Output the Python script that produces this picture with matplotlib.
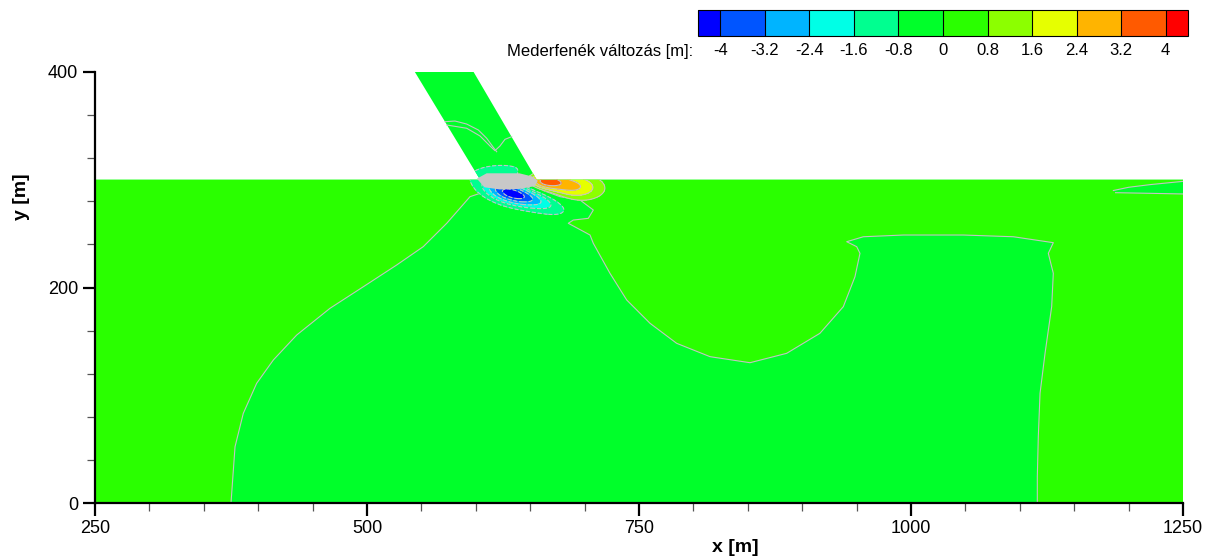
import numpy as np
import matplotlib
matplotlib.use("Agg")
import matplotlib.pyplot as plt
from matplotlib.colors import ListedColormap, BoundaryNorm
from matplotlib.patches import Polygon
from matplotlib.cm import ScalarMappable
from matplotlib.ticker import MultipleLocator

plt.rcParams["font.family"] = ["Liberation Sans", "DejaVu Sans"]

# ---- colour classes of the bed change [m] ----
LEVELS = [-4, -3.2, -2.4, -1.6, -0.8, 0, 0.8, 1.6, 2.4, 3.2, 4]
LEVEL_LABELS = ["-4", "-3.2", "-2.4", "-1.6", "-0.8", "0", "0.8", "1.6", "2.4", "3.2", "4"]
CLASS_COLORS = ["#0000FF", "#0055FF", "#00B4FF", "#00FFE6", "#00FF90", "#00FF2A",
                "#2AFF00", "#8CFF00", "#E6FF00", "#FFB400", "#FF5A00", "#FF0000"]

# ---- model domain: main reach plus the inclined side channel ----
DOMAIN_X = [250, 1250, 1250, 656, 598, 544, 604, 250]
DOMAIN_Y = [0, 0, 300, 300, 400, 400, 300, 300]
BACKGROUND_CHANGE = -0.4

# deposition zone along the left bank (between x=250 and the zero line)
LEFT_ZONE_X = [375, 378.7, 386.3, 398.6, 413.9, 435.4, 466.0, 496.6, 527.3,
               551.7, 573.3, 594.7, 603.9, 606.6]
LEFT_ZONE_Y = [0, 52.2, 83.2, 111.1, 132.7, 155.9, 180.7, 200.7, 220.9,
               237.9, 259.6, 284.3, 287.4, 295.1]
LEFT_ZONE_CHANGE = 0.4

# zero line bounding the deposition zone downstream of the junction
RIGHT_ZONE_X = [648, 662, 677.4, 695.8, 708, 703.4, 689.6, 685, 705, 708, 723.3,
                738.7, 760.1, 784.6, 815.3, 852.0, 885.7, 916.3, 937.8, 948.5,
                953.1, 950.1, 940.9, 956.2, 993.0, 1048.1, 1094.1, 1130.8,
                1126.2, 1130.8, 1129.3, 1123.2, 1118.6, 1117.0, 1116.1, 1116.1]
RIGHT_ZONE_Y = [300, 290, 284.3, 281.2, 271.9, 264.2, 262.6, 259.6, 248.7, 241,
                213.2, 188.4, 166.8, 148.2, 135.8, 130.2, 138.9, 157.5, 182.2,
                210.0, 231.7, 237.9, 242.5, 247.1, 248.7, 248.7, 247.1, 241.6,
                231.7, 213.2, 182.2, 138.9, 101.8, 61.5, 24.4, 0]
RIGHT_ZONE_CHANGE = 0.4

# small erosion wedge at the downstream bank
WEDGE_X = [1186, 1200, 1220, 1240, 1250, 1250, 1220, 1188]
WEDGE_Y = [290, 293, 295.5, 297.5, 298.5, 286.8, 287.4, 288]
WEDGE_CHANGE = -0.4

# contour lines inside the side channel
CHANNEL_LINE_A_X = [571.7, 580.9, 591.6, 602.3, 610.0, 616.1, 619.2]
CHANNEL_LINE_A_Y = [353.9, 354.5, 351.7, 346.2, 338.5, 330.1, 326.0]
CHANNEL_LINE_B_X = [573.3, 591.6, 603.9, 613.1, 617.6, 622.2, 626.8, 633.0]
CHANNEL_LINE_B_Y = [350.8, 347.8, 340.6, 331.3, 327.0, 331.3, 337.5, 340.0]

# scour hole and deposition mound at the junction (elliptic features)
FEATURE_X = [633, 664, 662, 688, 625]
FEATURE_Y = [287, 279, 299, 294, 306]
FEATURE_AMP = [-4.2, -1.4, 3.0, 2.6, -1.1]
FEATURE_SX = [18, 18, 12, 20, 28]
FEATURE_SY = [7, 8, 6, 9, 9]
FEATURE_ANGLE = [-14, -20, 0, -4, 0]

# dry cells at the channel mouth
DRY_X = [601, 610, 640, 652, 657, 654, 640, 622, 608]
DRY_Y = [301, 306, 306, 303, 299, 294, 291.5, 291, 293]

LINE_GREY = "#C4C4C4"

cmap = ListedColormap(CLASS_COLORS[1:-1])
cmap.set_under(CLASS_COLORS[0])
cmap.set_over(CLASS_COLORS[-1])
norm = BoundaryNorm(LEVELS, cmap.N)

W, H = 1215, 559
fig = plt.figure(figsize=(W / 100, H / 100), dpi=100)
ax = fig.add_axes([95 / W, 1 - 503 / H, (1183 - 95) / W, (503 - 72) / H])

# zone fills
ax.fill(DOMAIN_X, DOMAIN_Y, color=cmap(norm(BACKGROUND_CHANGE)), lw=0, zorder=1)
ax.fill([250] + LEFT_ZONE_X + [608, 250], [0] + LEFT_ZONE_Y + [300, 300],
        color=cmap(norm(LEFT_ZONE_CHANGE)), lw=0, zorder=1.2)
ax.fill(RIGHT_ZONE_X + [1250, 1250], RIGHT_ZONE_Y + [0, 300],
        color=cmap(norm(RIGHT_ZONE_CHANGE)), lw=0, zorder=1.2)
ax.fill(WEDGE_X, WEDGE_Y, color=cmap(norm(WEDGE_CHANGE)), lw=0, zorder=1.4)

# zero lines
for xs, ys in [(LEFT_ZONE_X, LEFT_ZONE_Y), (RIGHT_ZONE_X, RIGHT_ZONE_Y),
               (WEDGE_X[:5], WEDGE_Y[:5]), (WEDGE_X[5:], WEDGE_Y[5:]),
               (CHANNEL_LINE_A_X, CHANNEL_LINE_A_Y),
               (CHANNEL_LINE_B_X, CHANNEL_LINE_B_Y)]:
    ax.plot(xs, ys, color=LINE_GREY, lw=0.8, zorder=2)

# junction scour / deposition field
gx = np.arange(540, 800, 0.5)
gy = np.arange(220, 380, 0.5)
GX, GY = np.meshgrid(gx, gy)
Z = np.zeros_like(GX)
for x0, y0, a, sx, sy, ang in zip(FEATURE_X, FEATURE_Y, FEATURE_AMP,
                                  FEATURE_SX, FEATURE_SY, FEATURE_ANGLE):
    t = np.deg2rad(ang)
    dx, dy = GX - x0, GY - y0
    u = dx * np.cos(t) + dy * np.sin(t)
    v = -dx * np.sin(t) + dy * np.cos(t)
    Z += a * np.exp(-(u ** 2 / (2 * sx ** 2) + v ** 2 / (2 * sy ** 2)))

fill_levels = [-100, -4, -3.2, -2.4, -1.6, -0.8, 0.8, 1.6, 2.4, 3.2, 4, 100]
fill_colors = CLASS_COLORS[0:5] + [(1, 1, 1, 0)] + CLASS_COLORS[7:12]
clip = Polygon(np.column_stack([DOMAIN_X, DOMAIN_Y]), closed=True,
               transform=ax.transData)
cf = ax.contourf(GX, GY, Z, levels=fill_levels, colors=fill_colors, zorder=3)
cf.set_clip_path(clip)
cl = ax.contour(GX, GY, Z, levels=[-4, -3.2, -2.4, -1.6, -0.8, 0.8, 1.6, 2.4, 3.2, 4],
                colors=LINE_GREY, linewidths=0.8, zorder=4)
cl.set_clip_path(clip)

ax.fill(DRY_X, DRY_Y, color="#C8C8C8", lw=0, zorder=5)

# axes styling
ax.set_xlim(250, 1250)
ax.set_ylim(0, 400)
for side in ["top", "right"]:
    ax.spines[side].set_visible(False)
for side in ["left", "bottom"]:
    ax.spines[side].set_linewidth(1.6)
ax.xaxis.set_major_locator(MultipleLocator(250))
ax.xaxis.set_minor_locator(MultipleLocator(50))
ax.yaxis.set_major_locator(MultipleLocator(200))
ax.yaxis.set_minor_locator(MultipleLocator(40))
ax.tick_params(which="major", direction="out", length=9, width=1.6, labelsize=13, pad=3)
ax.tick_params(which="minor", direction="out", length=6, width=0.9, color="#555555")
fig.text(735 / W, 1 - 548 / H, "x [m]", fontsize=14, fontweight="bold",
         ha="center", va="center")
fig.text(22 / W, 1 - 197 / H, "y [m]", fontsize=14, fontweight="bold",
         ha="center", va="center", rotation=90)

# colour legend
cax = fig.add_axes([698 / W, 1 - 36 / H, 490 / W, 26 / H])
sm = ScalarMappable(norm=norm, cmap=cmap)
cb = fig.colorbar(sm, cax=cax, orientation="horizontal", extend="both",
                  extendrect=True, extendfrac=0.05, drawedges=True)
cb.outline.set_linewidth(0.8)
cb.dividers.set_linewidth(0.8)
cb.set_ticks(LEVELS)
cb.set_ticklabels(LEVEL_LABELS)
cax.tick_params(length=0, labelsize=12, pad=5)
fig.text(693 / W, 1 - 52 / H, "Mederfenék változás [m]:", fontsize=12,
         ha="right", va="center")

fig.savefig("out.png", dpi=100)
